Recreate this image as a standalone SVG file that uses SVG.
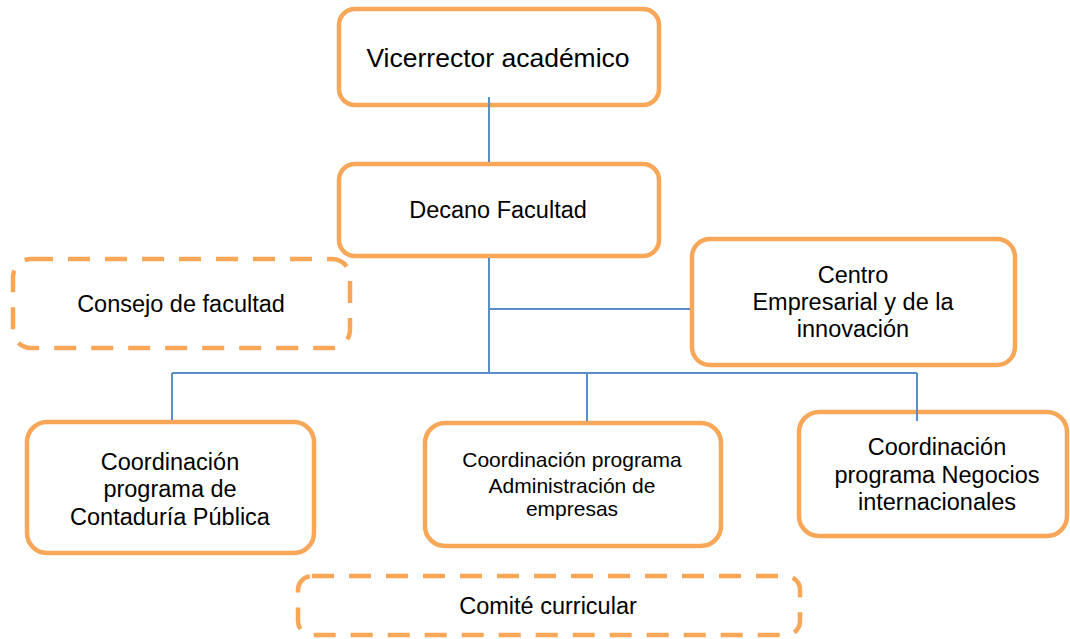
<svg xmlns="http://www.w3.org/2000/svg" width="1070" height="639" viewBox="0 0 1070 639">
<style>
.box{fill:#fff;stroke:#F8A658;stroke-width:4.5}
.dash{fill:#fff;stroke:#F8A658;stroke-width:4.5;stroke-dasharray:22 15}
.t{font-family:"Liberation Sans",Arial,sans-serif;font-size:23.5px;fill:#000;text-anchor:middle}
.s{font-size:21px}
.conn{stroke:#5B8DC8;stroke-width:2;fill:none}
</style>
<g id="vicerrector">
<rect class="box" x="339" y="9" width="320" height="96" rx="16"/>
<text class="t" x="498" y="67" style="font-size:26.5px">Vicerrector académico</text>
</g>
<g id="decano">
<rect class="box" x="339" y="164" width="320" height="92" rx="16"/>
<text class="t" x="498" y="218">Decano Facultad</text>
</g>
<g id="consejo">
<rect class="dash" x="13" y="259" width="337" height="89" rx="18"/>
<text class="t" x="181" y="312">Consejo de facultad</text>
</g>
<g id="centro">
<rect class="box" x="692" y="239" width="323" height="126" rx="18"/>
<text class="t" x="853" y="283">Centro</text>
<text class="t" x="853" y="310">Empresarial y de la</text>
<text class="t" x="853" y="337">innovación</text>
</g>
<g id="contaduria">
<rect class="box" x="27" y="422" width="287" height="131" rx="20"/>
<text class="t" x="170" y="470">Coordinación</text>
<text class="t" x="170" y="497">programa de</text>
<text class="t" x="170" y="525">Contaduría Pública</text>
</g>
<g id="administracion">
<rect class="box" x="425" y="423" width="296" height="123" rx="20"/>
<text class="t s" x="572" y="467">Coordinación programa</text>
<text class="t s" x="572" y="493">Administración de</text>
<text class="t s" x="572" y="516">empresas</text>
</g>
<g id="negocios">
<rect class="box" x="799" y="412" width="268" height="124" rx="20"/>
<text class="t" x="937" y="455">Coordinación</text>
<text class="t" x="937" y="483">programa Negocios</text>
<text class="t" x="937" y="510">internacionales</text>
</g>
<g id="comite">
<rect class="dash" x="298" y="576" width="502" height="59" rx="14"/>
<text class="t" x="548" y="614">Comité curricular</text>
</g>
<g id="connectors">
<line class="conn" x1="489" y1="97" x2="489" y2="162"/>
<line class="conn" x1="489" y1="258" x2="489" y2="373"/>
<line class="conn" x1="489" y1="309" x2="690" y2="309"/>
<line class="conn" x1="172" y1="373" x2="917" y2="373"/>
<line class="conn" x1="172" y1="373" x2="172" y2="420"/>
<line class="conn" x1="587" y1="373" x2="587" y2="421"/>
<line class="conn" x1="917" y1="373" x2="917" y2="421"/>
</g>
</svg>
